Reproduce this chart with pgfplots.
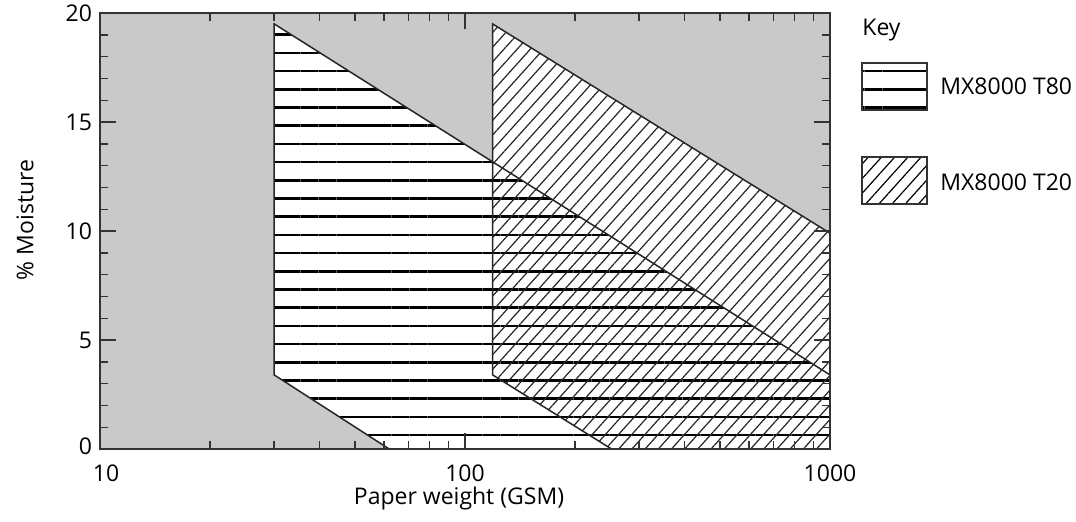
\documentclass[border=0pt]{standalone}
\usepackage{fontspec}
\setmainfont{Open Sans}
\usepackage{pgfplots}
\pgfplotsset{compat=1.18}
\usetikzlibrary{patterns.meta}
\definecolor{bg}{HTML}{C9C9C9}
\definecolor{ax}{HTML}{333333}
\begin{document}
\fontsize{11.5}{13}\selectfont
\begin{tikzpicture}
\useasboundingbox (0,0) rectangle (538pt,260.5pt);
\begin{axis}[
  at={(50pt,36pt)}, anchor=south west,
  scale only axis, width=365pt, height=218pt,
  xmode=log, xmin=10, xmax=1000, ymin=0, ymax=20,
  xtick={10,100,1000}, xticklabels={\hspace{6pt}10,100,1000\hspace{8pt}},
  minor xtick={20,30,40,50,60,70,80,90,200,300,400,500,600,700,800,900},
  ytick={0,5,10,15,20},
  yticklabels={\raisebox{3pt}{0},5,10,15,\raisebox{-2.2pt}{20}},
  minor ytick={1,2,3,4,6,7,8,9,11,12,13,14,16,17,18,19},
  tick align=inside, tick pos=both,
  major tick length=8pt, minor tick length=4pt,
  axis background/.style={fill=bg},
  axis on top,
  axis line style={line width=0.7pt, ax},
  every tick/.style={line width=0.7pt, ax},
  ticklabel style={font=\fontsize{11.5}{13}\selectfont},
  xticklabel style={yshift=-4pt},
]
% white interiors
\addplot[fill=white, draw=none] coordinates {(30,19.5) (30,3.4) (62,0) (1000,0) (1000,3.4)} -- cycle;
\addplot[fill=white, draw=none] coordinates {(119,19.5) (119,3.4) (252,0) (1000,0) (1000,9.9)} -- cycle;
% MX8000 T80 hatch
\addplot[draw=none, pattern={Lines[angle=0, distance=9.1pt, yshift=-2.5pt, line width=1.3pt]}, pattern color=black]
  coordinates {(30,19.5) (30,3.4) (62,0) (1000,0) (1000,3.4)} -- cycle;
% MX8000 T20 hatch
\addplot[draw=none, pattern={Lines[angle=48, distance=4.9pt, line width=0.6pt]}, pattern color=black!85]
  coordinates {(119,19.5) (119,3.4) (252,0) (1000,0) (1000,9.9)} -- cycle;
% outlines
\addplot[draw=black!85, line width=0.75pt] coordinates {(30,19.5) (30,3.4) (62,0) (1000,0) (1000,3.4)} -- cycle;
\addplot[draw=black!85, line width=0.75pt] coordinates {(119,19.5) (119,3.4) (252,0) (1000,0) (1000,9.9)} -- cycle;
\end{axis}
% axis titles
\node[anchor=base, inner sep=0] at (229.5pt,8.3pt) {Paper weight (GSM)};
\node[rotate=90, inner sep=0] at (12.5pt,150.5pt) {\% Moisture};
% key
\node[anchor=base west, inner sep=0] at (431pt,243pt) {Key};
\draw[fill=white, draw=none] (431pt,205.5pt) rectangle (463.5pt,229pt);
\draw[pattern={Lines[angle=0, distance=9.1pt, yshift=-2.5pt, line width=1.3pt]}, draw=ax, line width=0.6pt] (431pt,205.5pt) rectangle (463.5pt,229pt);
\node[anchor=base west, inner sep=0] at (470pt,213.5pt) {MX8000 T80};
\draw[fill=white, draw=none] (431pt,158.5pt) rectangle (463.5pt,182pt);
\draw[pattern={Lines[angle=48, distance=4.9pt, line width=0.6pt]}, draw=ax, line width=0.6pt] (431pt,158.5pt) rectangle (463.5pt,182pt);
\node[anchor=base west, inner sep=0] at (470pt,165.5pt) {MX8000 T20};
\end{tikzpicture}
\end{document}
